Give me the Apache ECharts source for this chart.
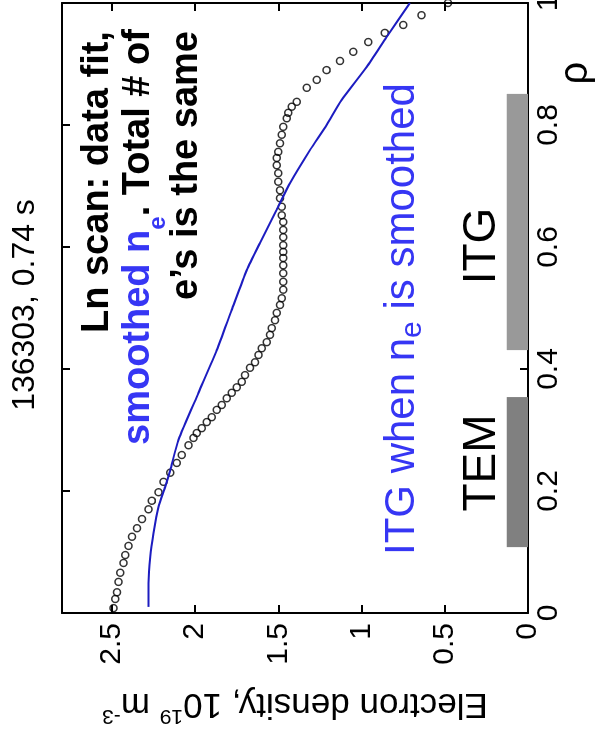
<!DOCTYPE html>
<html><head><meta charset="utf-8">
<script src="https://cdn.jsdelivr.net/npm/echarts@6/dist/echarts.min.js"></script>
<style>
html,body{margin:0;padding:0;background:#fff;overflow:hidden;width:599px;height:735px;}
#wrap{position:absolute;left:0;top:0;width:735px;height:599px;transform-origin:0 0;transform:translate(0,735px) rotate(-90deg);}
#chart{width:735px;height:599px;}
</style></head><body>
<div id="wrap"><div id="chart"></div></div>
<script>
// measured profile (circles)
const rhoData = [0.008,0.023,0.034,0.051,0.066,0.082,0.095,0.110,0.125,0.139,0.154,0.170,0.184,0.198,0.215,0.230,0.246,0.259,0.275,0.287,0.295,0.303,0.313,0.321,0.333,0.341,0.352,0.361,0.370,0.379,0.390,0.402,0.411,0.423,0.434,0.444,0.456,0.467,0.480,0.492,0.505,0.516,0.530,0.543,0.557,0.570,0.582,0.592,0.603,0.616,0.628,0.641,0.652,0.666,0.680,0.693,0.707,0.721,0.734,0.746,0.756,0.770,0.784,0.797,0.811,0.820,0.830,0.838,0.861,0.874,0.890,0.905,0.920,0.936,0.951,0.964,0.980,1.000];
const densityData = [2.49,2.48,2.47,2.46,2.45,2.43,2.42,2.40,2.38,2.35,2.32,2.28,2.26,2.22,2.19,2.15,2.11,2.08,2.04,2.01,1.99,1.96,1.93,1.90,1.87,1.84,1.81,1.78,1.75,1.72,1.70,1.67,1.64,1.62,1.60,1.57,1.55,1.54,1.52,1.51,1.49,1.48,1.47,1.47,1.47,1.47,1.47,1.47,1.47,1.47,1.47,1.47,1.48,1.48,1.49,1.49,1.50,1.50,1.51,1.51,1.50,1.49,1.48,1.47,1.45,1.44,1.42,1.39,1.33,1.27,1.21,1.13,1.05,0.96,0.86,0.75,0.64,0.48];
// smoothed fit (blue line)
const rhoFit = [0.010,0.049,0.092,0.131,0.174,0.207,0.234,0.284,0.361,0.431,0.497,0.562,0.607,0.661,0.705,0.759,0.800,0.841,0.895,0.944,1.000];
const densityFit = [2.28,2.28,2.27,2.25,2.22,2.18,2.15,2.10,1.98,1.87,1.78,1.69,1.61,1.51,1.43,1.31,1.21,1.12,0.97,0.85,0.71];
// instability bands
const bandNames = ['TEM','ITG'];
const bandStart = [0.108,0.431];
const bandEnd = [0.354,0.851];
const bandHeight = [0.127,0.127];
const bandColors = ['#808080','#999999'];
// ticks
const rhoTicks = [0,0.2,0.4,0.6,0.8,1];
const densityTicks = [0,0.5,1,1.5,2,2.5];

const FONT = 'Liberation Sans, Arial, Helvetica, sans-serif';
const BLUE = '#3636f4';
const LINEBLUE = '#1c1cc0';

const chart = echarts.init(document.getElementById('chart'), null, {renderer:'canvas'});

function xAx(pos, labels){
  return {type:'value', min:0, max:1, position:pos,
    axisLine:{show:true,onZero:false,lineStyle:{color:'#000',width:2}},
    axisTick:{show:true,inside:true,length:8,customValues:rhoTicks,lineStyle:{color:'#000',width:2}},
    axisLabel:{show:labels,customValues:rhoTicks,fontSize:30,fontFamily:FONT,color:'#000',margin:6},
    splitLine:{show:false}};
}
function yAx(pos, labels){
  const a = {type:'value', min:0, max:2.8, position:pos,
    axisLine:{show:true,onZero:false,lineStyle:{color:'#000',width:2}},
    axisTick:{show:true,inside:true,length:8,customValues:densityTicks,lineStyle:{color:'#000',width:2}},
    axisLabel:{show:labels,customValues:densityTicks,fontSize:30,fontFamily:FONT,color:'#000',margin:10},
    splitLine:{show:false}};
  if (labels) {
    a.name = '{m|Electron density, 10}{sup|19}{m| m}{sup|-3}';
    a.nameLocation = 'middle';
    a.nameGap = 46;
    a.nameTextStyle = {color:'#000', fontFamily:FONT,
      rich:{
        m:{fontSize:35,lineHeight:40,verticalAlign:'bottom',color:'#000',fontFamily:FONT},
        sup:{fontSize:21,lineHeight:21,padding:[0,0,30,0],verticalAlign:'top',color:'#000',fontFamily:FONT}
      }};
  }
  return a;
}

const option = {
  animation:false,
  backgroundColor:'#fff',
  grid:{left:122,right:3,top:62,bottom:71,containLabel:false,outerBoundsMode:'none'},
  xAxis:[xAx('bottom',true), xAx('top',false)],
  yAxis:[yAx('left',true), yAx('right',false)],
  series:[
    {type:'custom', xAxisIndex:0, yAxisIndex:0, z:1,
      data: bandNames.map((nm,i)=>({name:nm, value:[bandStart[i], bandEnd[i], bandHeight[i]], itemStyle:{color:bandColors[i]}})),
      renderItem:function(params, api){
        const p0 = api.coord([api.value(0), 0]);
        const p1 = api.coord([api.value(1), api.value(2)]);
        return {type:'rect', shape:{x:p0[0], y:p1[1], width:p1[0]-p0[0], height:p0[1]-p1[1]}, style:{fill:api.visual('color')}};
      }
    },
    {type:'scatter', xAxisIndex:0, yAxisIndex:0, z:3, symbol:'circle', symbolSize:7, clip:false,
      itemStyle:{color:'rgba(0,0,0,0)', borderColor:'#000', borderWidth:1.5},
      data: rhoData.map((r,i)=>[r, densityData[i]])},
    {type:'line', xAxisIndex:0, yAxisIndex:0, z:4, showSymbol:false, smooth:0.2,
      lineStyle:{color:LINEBLUE, width:2},
      data: rhoFit.map((r,i)=>[r, densityFit[i]])}
  ],
  graphic:[
    {type:'text', x:430, y:25, style:{text:'136303, 0.74 s', fontSize:32, fontFamily:FONT, fill:'#000', align:'center', verticalAlign:'middle'}},
    {type:'text', x:402, y:78, style:{text:'Ln scan: data fit,', fontSize:38, fontWeight:'bold', fontFamily:FONT, lineHeight:40, fill:'#000', align:'left', verticalAlign:'top'}},
    {type:'text', x:290, y:120, style:{text:'{b|smoothed n}{bs|e}{k|. Total # of}', fontFamily:FONT, align:'left', verticalAlign:'top',
      rich:{
        b:{fill:BLUE, fontSize:38, fontWeight:'bold', fontFamily:FONT, lineHeight:40, verticalAlign:'top'},
        bs:{fill:BLUE, fontSize:24, fontWeight:'bold', fontFamily:FONT, lineHeight:24, padding:[26,0,0,0], verticalAlign:'top'},
        k:{fill:'#000', fontSize:38, fontWeight:'bold', fontFamily:FONT, lineHeight:40, verticalAlign:'top'}
      }}},
    {type:'text', x:435, y:167, style:{text:'e\u2019s is the same', fontSize:38, fontWeight:'bold', fontFamily:FONT, lineHeight:40, fill:'#000', align:'left', verticalAlign:'top'}},
    {type:'text', x:180, y:381, style:{text:'{a|ITG when n}{s|e}{a| is smoothed}', fontFamily:FONT, align:'left', verticalAlign:'top',
      rich:{
        a:{fill:BLUE, fontSize:42, fontFamily:FONT, lineHeight:44, verticalAlign:'top'},
        s:{fill:BLUE, fontSize:30, fontFamily:FONT, lineHeight:30, padding:[17,0,0,0], verticalAlign:'top'}
      }}},
    {type:'text', x:272, y:482, style:{text:'TEM', fontSize:46, fontFamily:FONT, fill:'#000', align:'center', verticalAlign:'middle'}},
    {type:'text', x:489, y:482, style:{text:'ITG', fontSize:46, fontFamily:FONT, fill:'#000', align:'center', verticalAlign:'middle'}},
    {type:'text', x:662, y:576, style:{text:'\u03c1', fontSize:40, fontFamily:FONT, fill:'#000', align:'center', verticalAlign:'middle'}}
  ]
};
chart.setOption(option);
</script>
</body></html>
